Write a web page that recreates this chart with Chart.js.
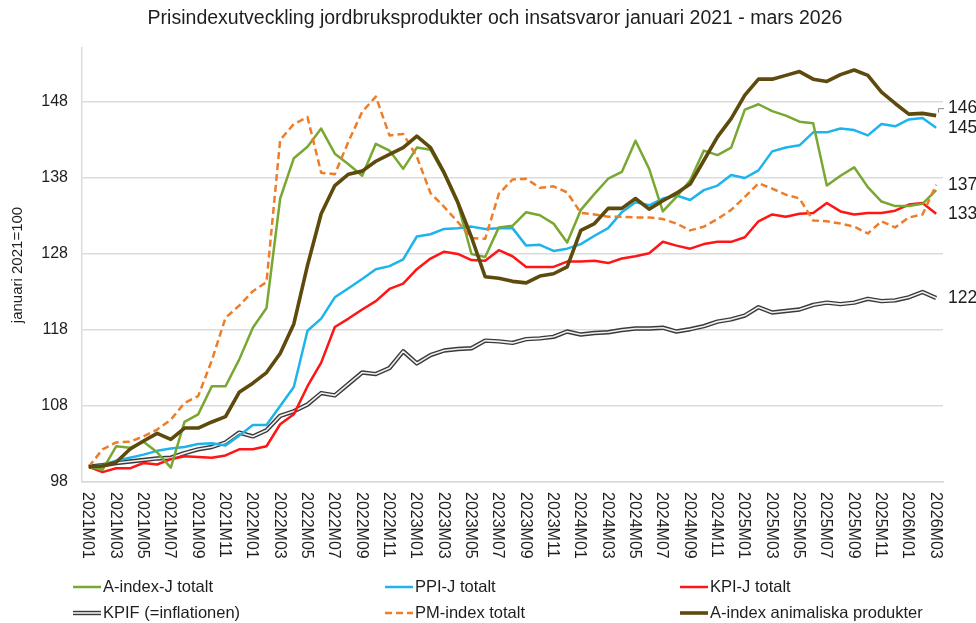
<!DOCTYPE html>
<html>
<head>
<meta charset="utf-8">
<script src="https://cdn.jsdelivr.net/npm/chart.js@4.4.1/dist/chart.umd.min.js"></script>
<style>
  html, body { margin: 0; padding: 0; background: #fff; }
</style>
</head>
<body>
<canvas id="chart" width="976" height="623"></canvas>
<script>
// månader 2021M01 - 2026M03
const months = [];
for (let y = 2021; y <= 2026; y++) {
  for (let m = 1; m <= 12; m++) {
    if (y === 2026 && m > 3) break;
    months.push(y + 'M' + String(m).padStart(2, '0'));
  }
}

const aIndexJ = [100, 99.6, 102.7, 102.5, 103.3, 101.9, 99.9, 105.9, 106.9, 110.6, 110.6, 114.1,
  118.3, 120.9, 135.3, 140.6, 142.1, 144.5, 141.2, 139.8, 138.3, 142.5, 141.6, 139.2,
  142.0, 141.7, 138.5, 134.6, 128.0, 127.6, 131.5, 131.7, 133.5, 133.1, 132.0, 129.5,
  133.8, 135.9, 137.9, 138.8, 142.9, 139.2, 133.6, 135.5, 137.7, 141.6, 141.0, 142.0,
  147.0, 147.7, 146.8, 146.2, 145.4, 145.2, 137.0, 138.3, 139.4, 136.8, 134.9, 134.3,
  134.3, 134.6, 136.4];

const ppiJ = [100, 100.2, 100.8, 101.2, 101.6, 102.1, 102.4, 102.6, 103.0, 103.1, 102.8, 104.1,
  105.5, 105.5, 108.0, 110.5, 117.9, 119.5, 122.3, 123.5, 124.7, 126.0, 126.4, 127.3,
  130.3, 130.6, 131.3, 131.4, 131.6, 131.3, 131.4, 131.4, 129.1, 129.2, 128.4, 128.7,
  129.3, 130.4, 131.4, 133.5, 134.8, 134.4, 135.3, 135.7, 135.1, 136.4, 137.0, 138.4,
  138.0, 139.0, 141.5, 142.0, 142.3, 144.0, 144.0, 144.5, 144.3, 143.6, 145.1, 144.8,
  145.7, 145.9, 144.6];

const kpiJ = [100, 99.3, 99.8, 99.8, 100.5, 100.3, 101.0, 101.4, 101.3, 101.2, 101.5, 102.3,
  102.3, 102.7, 105.6, 106.9, 110.6, 113.7, 118.4, 119.5, 120.7, 121.8, 123.4, 124.1,
  126.0, 127.4, 128.3, 128.0, 127.2, 127.1, 128.5, 127.7, 126.3, 126.3, 126.3, 127.0,
  127.0, 127.1, 126.8, 127.4, 127.7, 128.1, 129.6, 129.1, 128.7, 129.3, 129.6, 129.6,
  130.2, 132.3, 133.2, 132.9, 133.3, 133.4, 134.7, 133.6, 133.2, 133.4, 133.4, 133.7,
  134.5, 134.7, 133.3];

const kpif = [100, 100.2, 100.5, 100.7, 100.9, 101.1, 101.2, 101.8, 102.3, 102.6, 103.2, 104.5,
  104.0, 104.8, 106.7, 107.3, 108.2, 109.7, 109.4, 110.9, 112.4, 112.2, 113.0, 115.2,
  113.6, 114.7, 115.3, 115.5, 115.6, 116.6, 116.5, 116.3, 116.8, 116.9, 117.1, 117.8,
  117.4, 117.6, 117.7, 118.0, 118.2, 118.2, 118.3, 117.8, 118.1, 118.5, 119.1, 119.4,
  119.9, 121.0, 120.3, 120.5, 120.7, 121.3, 121.6, 121.4, 121.6, 122.1, 121.8, 121.9,
  122.3, 123.0, 122.2];

const pmIndex = [100, 102.3, 103.2, 103.3, 104.0, 104.9, 106.2, 108.4, 109.3, 114.0, 119.6, 121.2,
  123.1, 124.3, 143.0, 145.1, 146.0, 138.7, 138.5, 142.8, 146.7, 148.7, 143.6, 143.8,
  140.8, 136.0, 134.2, 132.2, 130.1, 130.0, 135.9, 137.8, 137.9, 136.7, 136.9, 136.1,
  133.4, 133.2, 132.9, 132.9, 132.8, 132.8, 132.6, 132.0, 131.1, 131.6, 132.6, 133.8,
  135.5, 137.3, 136.6, 135.8, 135.3, 132.4, 132.3, 132.0, 131.6, 130.7, 132.3, 131.5,
  132.8, 133.2, 137.1];

const aIndexAnimal = [100, 100.1, 100.6, 102.3, 103.4, 104.4, 103.6, 105.1, 105.1, 105.9, 106.6, 109.8,
  111.0, 112.4, 114.9, 118.8, 126.5, 133.3, 137.0, 138.5, 138.9, 140.2, 141.1, 142.0,
  143.5, 142.0, 138.7, 134.8, 130.2, 125.0, 124.8, 124.4, 124.2, 125.1, 125.4, 126.3,
  131.1, 132.0, 134.0, 134.0, 135.3, 133.9, 135.0, 136.0, 137.2, 140.3, 143.4, 145.8,
  148.9, 151.0, 151.0, 151.5, 152.0, 151.0, 150.7, 151.6, 152.2, 151.5, 149.3, 147.8,
  146.4, 146.5, 146.2];

const yTicks = [98, 108, 118, 128, 138, 148];

const fontFam = "'Liberation Sans', Arial, sans-serif";
const textCol = '#1e1e1e';

const datasets = [
  { label: 'A-index-J totalt', data: aIndexJ, borderColor: '#78A832', borderWidth: 2.5, order: 2 },
  { label: 'PPI-J totalt', data: ppiJ, borderColor: '#1DB4EC', borderWidth: 2.5, order: 3, endLabel: true },
  { label: 'KPI-J totalt', data: kpiJ, borderColor: '#FF1515', borderWidth: 2.5, order: 4, endLabel: true },
  { label: 'KPIF (=inflationen)', data: kpif, borderColor: '#3a3a3a', borderWidth: 4.4, order: 5, doubleLine: true, endLabel: true },
  { label: 'PM-index totalt', data: pmIndex, borderColor: '#EE7D2A', borderWidth: 2.5, borderDash: [7, 4], order: 1, endLabel: true },
  { label: 'A-index animaliska produkter', data: aIndexAnimal, borderColor: '#5E4A0C', borderWidth: 3.6, order: 0, endLabel: true, labelShift: -7 }
];
datasets.forEach(d => { d.pointRadius = 0; d.tension = 0; d.fill = false; d.borderJoinStyle = 'round'; });

function strokeSample(ctx, ds, x0, x1, y) {
  ctx.save();
  ctx.beginPath();
  ctx.moveTo(x0, y); ctx.lineTo(x1, y);
  ctx.strokeStyle = ds.borderColor;
  ctx.lineWidth = ds.borderWidth;
  ctx.setLineDash(ds.borderDash || []);
  ctx.stroke();
  if (ds.doubleLine) {
    ctx.beginPath();
    ctx.moveTo(x0, y); ctx.lineTo(x1, y);
    ctx.strokeStyle = '#f0f0f0';
    ctx.lineWidth = 1.6;
    ctx.stroke();
  }
  ctx.restore();
}

const decor = {
  id: 'decor',
  afterDatasetDraw(chart, args) {
    const ds = chart.data.datasets[args.index];
    if (!ds.doubleLine) return;
    const ctx = chart.ctx;
    const pts = args.meta.data;
    ctx.save();
    ctx.beginPath();
    pts.forEach((p, i) => i ? ctx.lineTo(p.x, p.y) : ctx.moveTo(p.x, p.y));
    ctx.strokeStyle = '#f0f0f0';
    ctx.lineWidth = 1.6;
    ctx.lineJoin = 'round';
    ctx.stroke();
    ctx.restore();
  },
  afterDraw(chart) {
    const ctx = chart.ctx;
    const xs = chart.scales.x, ys = chart.scales.y;
    ctx.save();
    ctx.fillStyle = textCol;

    // titel
    ctx.font = '19.5px ' + fontFam;
    ctx.textAlign = 'center';
    ctx.textBaseline = 'middle';
    ctx.fillText('Prisindexutveckling jordbruksprodukter och insatsvaror januari 2021 - mars 2026', 495, 19);

    // x-etiketter, lodräta (läses uppifrån och ned)
    ctx.font = '16px ' + fontFam;
    ctx.textAlign = 'left';
    months.forEach((m, i) => {
      if (i % 2) return;
      ctx.save();
      ctx.translate(xs.getPixelForValue(i), ys.bottom + 10);
      ctx.rotate(Math.PI / 2);
      ctx.fillText(m, 0, 1);
      ctx.restore();
    });

    // slutvärden till höger
    ctx.font = '17.5px ' + fontFam;
    chart.data.datasets.forEach(ds => {
      if (!ds.endLabel) return;
      const last = ds.data[ds.data.length - 1];
      const y = ys.getPixelForValue(last) + (ds.labelShift || 0);
      ctx.fillText(String(Math.round(last)), xs.right + 5, y);
      if (ds.labelShift) {
        ctx.save();
        ctx.strokeStyle = '#8c8c8c';
        ctx.lineWidth = 1;
        ctx.beginPath();
        ctx.moveTo(xs.right - 4.5, y + 4);
        ctx.lineTo(xs.right - 4.5, y);
        ctx.lineTo(xs.right + 1, y);
        ctx.stroke();
        ctx.restore();
      }
    });

    // förklaring, tre kolumner
    ctx.font = '16.5px ' + fontFam;
    const colX = [73, 385, 680], rowY = [587, 613];
    chart.data.datasets.forEach((ds, i) => {
      const x = colX[i % 3], y = rowY[Math.floor(i / 3)];
      strokeSample(ctx, ds, x, x + 28, y);
      ctx.fillStyle = textCol;
      ctx.fillText(ds.label, x + 30, y);
    });
    ctx.restore();
  }
};

new Chart(document.getElementById('chart'), {
  type: 'line',
  data: { labels: months, datasets },
  options: {
    responsive: false,
    animation: false,
    devicePixelRatio: 1,
    layout: { padding: { top: 48, right: 33, left: 0, bottom: 0 } },
    plugins: { legend: { display: false }, tooltip: { enabled: false }, title: { display: false } },
    scales: {
      x: {
        offset: true,
        grid: { display: false, drawTicks: false },
        border: { color: '#d9d9d9', width: 1.5 },
        ticks: { display: false },
        afterFit(scale) { scale.height = 141; }
      },
      y: {
        min: 98,
        max: 155.1,
        afterBuildTicks(scale) { scale.ticks = yTicks.map(v => ({ value: v })); },
        grid: { color: '#dcdcdc', lineWidth: 1.5, drawTicks: false },
        border: { color: '#dcdcdc', width: 1.5 },
        ticks: { color: textCol, font: { family: fontFam, size: 16 }, padding: 14 },
        title: { display: true, text: 'januari 2021=100', color: textCol, font: { family: fontFam, size: 15 }, padding: { top: 9, bottom: 0 } },
        afterFit(scale) { scale.width = 82; }
      }
    }
  },
  plugins: [decor]
});
</script>
</body>
</html>
